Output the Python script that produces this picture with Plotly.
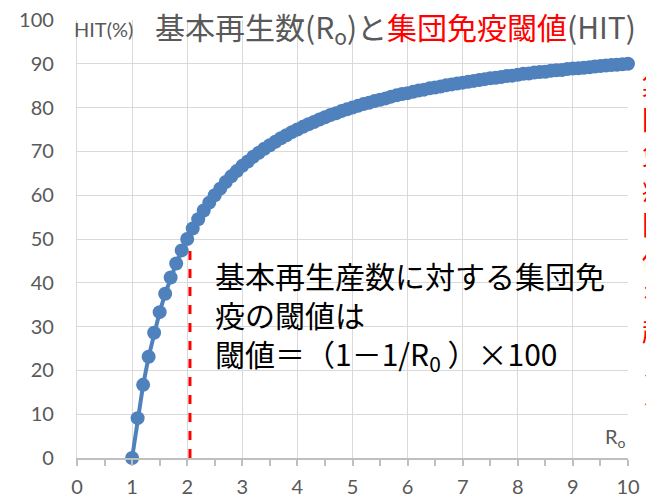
import plotly.graph_objects as go

# Basic reproduction number R0 and herd immunity threshold HIT (%)
r0 = [1.0, 1.1, 1.2, 1.3, 1.4, 1.5, 1.6, 1.7, 1.8, 1.9,
      2.0, 2.1, 2.2, 2.3, 2.4, 2.5, 2.6, 2.7, 2.8, 2.9,
      3.0, 3.1, 3.2, 3.3, 3.4, 3.5, 3.6, 3.7, 3.8, 3.9,
      4.0, 4.1, 4.2, 4.3, 4.4, 4.5, 4.6, 4.7, 4.8, 4.9,
      5.0, 5.1, 5.2, 5.3, 5.4, 5.5, 5.6, 5.7, 5.8, 5.9,
      6.0, 6.1, 6.2, 6.3, 6.4, 6.5, 6.6, 6.7, 6.8, 6.9,
      7.0, 7.1, 7.2, 7.3, 7.4, 7.5, 7.6, 7.7, 7.8, 7.9,
      8.0, 8.1, 8.2, 8.3, 8.4, 8.5, 8.6, 8.7, 8.8, 8.9,
      9.0, 9.1, 9.2, 9.3, 9.4, 9.5, 9.6, 9.7, 9.8, 9.9,
      10.0]
hit = [0.0, 9.1, 16.7, 23.1, 28.6, 33.3, 37.5, 41.2, 44.4, 47.4,
       50.0, 52.4, 54.5, 56.5, 58.3, 60.0, 61.5, 63.0, 64.3, 65.5,
       66.7, 67.7, 68.8, 69.7, 70.6, 71.4, 72.2, 73.0, 73.7, 74.4,
       75.0, 75.6, 76.2, 76.7, 77.3, 77.8, 78.3, 78.7, 79.2, 79.6,
       80.0, 80.4, 80.8, 81.1, 81.5, 81.8, 82.1, 82.5, 82.8, 83.1,
       83.3, 83.6, 83.9, 84.1, 84.4, 84.6, 84.8, 85.1, 85.3, 85.5,
       85.7, 85.9, 86.1, 86.3, 86.5, 86.7, 86.8, 87.0, 87.2, 87.3,
       87.5, 87.7, 87.8, 88.0, 88.1, 88.2, 88.4, 88.5, 88.6, 88.8,
       88.9, 89.0, 89.1, 89.2, 89.4, 89.5, 89.6, 89.7, 89.8, 89.9,
       90.0]

x_ticks = [0, 1, 2, 3, 4, 5, 6, 7, 8, 9, 10]
y_ticks = [0, 10, 20, 30, 40, 50, 60, 70, 80, 90, 100]

# marker line: R0 just above 2, up to its threshold
ref_r0 = [2.05, 2.05]
ref_hit = [0, 50.5]

BLUE = "#4f81bd"
GRAY = "#595959"
GRID = "#d9d9d9"
CJK = "Noto Sans CJK JP"
NUM = "Lato, 'Noto Sans CJK JP', sans-serif"

fig = go.Figure()

fig.add_trace(go.Scatter(
    x=ref_r0, y=ref_hit, mode="lines",
    line=dict(color="#ff0000", width=3, dash="dash"),
    hoverinfo="skip", showlegend=False,
))

fig.add_trace(go.Scatter(
    x=r0, y=hit, mode="lines+markers",
    line=dict(color=BLUE, width=4),
    marker=dict(color=BLUE, size=14),
    cliponaxis=False, showlegend=False,
))

# white panel behind the title, over the gridlines
fig.add_shape(type="rect", xref="paper", yref="paper",
              x0=0.123, x1=1.2, y0=0.932, y1=1.1,
              fillcolor="white", line=dict(width=0), layer="between")

fig.add_annotation(
    xref="paper", yref="paper", x=(153 - 77) / 551, y=(458 - 27) / 438,
    xanchor="left", yanchor="middle", showarrow=False,
    text=("<span style='color:#595959'>基本再生数(R<sub>o</sub>)と</span>"
          "<span style='color:#ff0000'>集団免疫閾値</span>"
          "<span style='color:#595959'>(HIT)</span>"),
    font=dict(family=CJK, size=30, color=GRAY),
)

fig.add_annotation(
    xref="paper", yref="paper", x=(72 - 77) / 551, y=(458 - 29) / 438,
    xanchor="left", yanchor="middle", showarrow=False,
    text="HIT(%)", font=dict(family=NUM, size=20, color=GRAY),
)

fig.add_annotation(
    xref="paper", yref="paper", x=1.0, y=(458 - 437) / 438,
    xanchor="right", yanchor="middle", showarrow=False,
    text="R<sub>o</sub>", font=dict(family=NUM, size=20, color=GRAY),
)

fig.add_annotation(
    xref="paper", yref="paper", x=(213 - 77) / 551, y=(458 - 315) / 438,
    xanchor="left", yanchor="middle", align="left", showarrow=False,
    text=("基本再生産数に対する集団免<br>疫の閾値は<br>"
          "閾値＝（1－1/R<sub>0</sub> ）×100"),
    font=dict(family=CJK, size=30, color="#000000"),
)

# side note in red, running past the right edge of the page
fig.add_annotation(
    xref="paper", yref="paper", x=(640 - 77) / 551, y=(458 - 62) / 438,
    xanchor="left", yanchor="top", align="left", showarrow=False,
    text="<br>".join(list("集団免疫閾値を超えると")),
    font=dict(family=CJK, size=27, color="#ff0000"),
)

fig.update_layout(
    width=646, height=499,
    margin=dict(l=77, r=18, t=20, b=41),
    paper_bgcolor="white", plot_bgcolor="white",
    font=dict(family=NUM, color=GRAY),
    xaxis=dict(
        range=[0, 10], tickvals=x_ticks, ticktext=[str(v) for v in x_ticks],
        showgrid=True, gridcolor=GRID, gridwidth=1.3,
        showline=True, linecolor="#bfbfbf", linewidth=1.5,
        ticks="outside", ticklen=6, tickcolor="#bfbfbf", tickwidth=1.5,
        minor=dict(dtick=0.5, ticks="outside", ticklen=6,
                   tickcolor="#bfbfbf", tickwidth=1.5, showgrid=False),
        tickfont=dict(size=20, color=GRAY), ticklabelstandoff=4,
        zeroline=False, automargin=False,
    ),
    yaxis=dict(
        range=[0, 100], tickvals=y_ticks, ticktext=[str(v) for v in y_ticks],
        showgrid=True, gridcolor=GRID, gridwidth=1.3,
        showline=True, linecolor=GRID, linewidth=1.3,
        ticks="", tickfont=dict(size=20, color=GRAY), ticklabelstandoff=18,
        zeroline=False, automargin=False,
    ),
)

fig.write_html("out.html")
